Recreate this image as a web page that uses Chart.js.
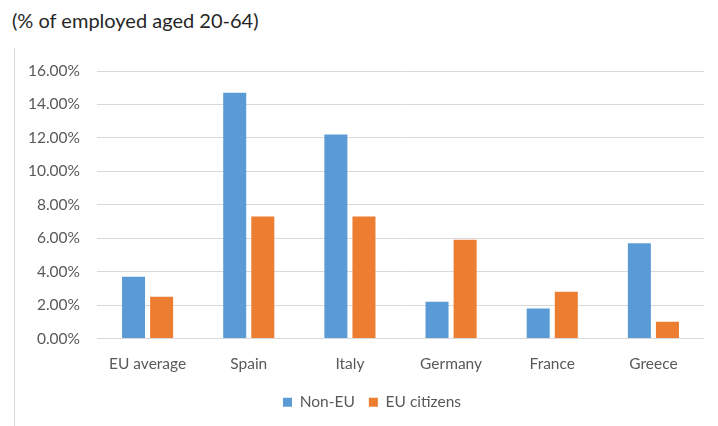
<!DOCTYPE html>
<html>
<head>
<meta charset="utf-8">
<script src="https://cdn.jsdelivr.net/npm/chart.js@4/dist/chart.umd.min.js"></script>
<style>
    body { margin: 0; background: #fff; }
    #wrap { position: relative; width: 718px; height: 426px; overflow: hidden; }
    #title {
        position: absolute; left: 12px; top: 8px;
        font-family: Lato, sans-serif; font-size: 20px; color: #262626;
    }
    #frame { position: absolute; left: 14px; top: 48px; width: 0; height: 380px; border-left: 1px solid #d9d9d9; }
    #chart { position: absolute; left: 0; top: 0; }
</style>
</head>
<body>
<div id="wrap">
    <div id="title">(% of employed aged 20-64)</div>
    <div id="frame"></div>
    <canvas id="chart" width="718" height="426"></canvas>
</div>
<script>
const categories = ['EU average', 'Spain', 'Italy', 'Germany', 'France', 'Greece'];
const nonEu = [3.7, 14.7, 12.2, 2.2, 1.8, 5.7];
const euCitizens = [2.5, 7.3, 7.3, 5.9, 2.8, 1.0];
const yTicks = [0, 2, 4, 6, 8, 10, 12, 14, 16];

const font = 'Lato, sans-serif';
const textColor = '#595959';

// legend sits a bit right of the canvas centre in the original
const legendShift = {
    id: 'legendShift',
    afterLayout(chart) {
        chart.legend.left += 20;
        chart.legend.right += 20;
    }
};

new Chart(document.getElementById('chart'), {
    type: 'bar',
    data: {
        labels: categories,
        datasets: [{
            label: 'Non-EU',
            data: nonEu,
            backgroundColor: '#5b9bd5',
            categoryPercentage: 0.555,
            barPercentage: 0.82
        }, {
            label: 'EU citizens',
            data: euCitizens,
            backgroundColor: '#ed7d31',
            categoryPercentage: 0.555,
            barPercentage: 0.82
        }]
    },
    plugins: [legendShift],
    options: {
        responsive: false,
        animation: false,
        layout: {
            padding: { left: 0, right: 14, top: 71, bottom: 6 }
        },
        plugins: {
            legend: {
                position: 'bottom',
                labels: {
                    boxWidth: 9,
                    boxHeight: 9,
                    padding: 14,
                    color: textColor,
                    font: { family: font, size: 15.5 }
                }
            },
            tooltip: { enabled: false }
        },
        scales: {
            x: {
                grid: { display: false },
                border: { display: false },
                ticks: {
                    color: textColor,
                    padding: 8,
                    font: { family: font, size: 15.5 }
                },
                afterFit: (scale) => { scale.height = 42; }
            },
            y: {
                min: 0,
                max: 16,
                afterBuildTicks: (scale) => {
                    scale.ticks = yTicks.map(v => ({ value: v }));
                },
                grid: { color: '#d9d9d9', drawTicks: false },
                border: { display: false },
                ticks: {
                    color: textColor,
                    padding: 17,
                    font: { family: font, size: 15.5 },
                    callback: (v) => v.toFixed(2) + '%'
                },
                afterFit: (scale) => { scale.width = 97; }
            }
        }
    }
});
</script>
</body>
</html>
